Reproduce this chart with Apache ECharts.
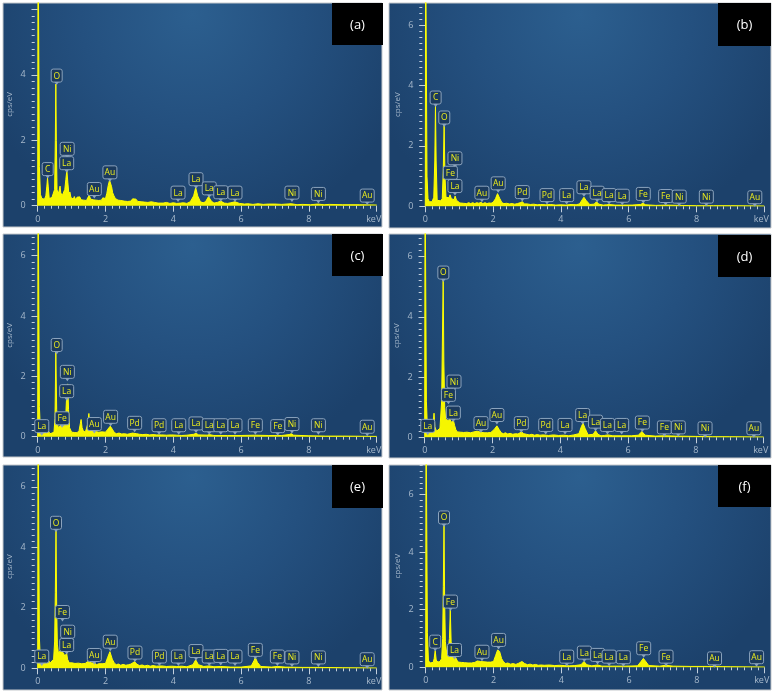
<!DOCTYPE html>
<html>
<head>
<meta charset="utf-8">
<script src="https://cdn.jsdelivr.net/npm/echarts@6.0.0/dist/echarts.min.js"></script>
<style>
html, body { margin: 0; padding: 0; background: #fff; }
#main { width: 774px; height: 694px; }
</style>
</head>
<body>
<div id="main"></div>
<script>
// EDS spectra, [keV, cps/eV]
var specA = [[0,0],[0.01,9],[0.03,9],[0.05,1.2],[0.08,0.35],[0.12,0.22],[0.16,0.28],[0.2,0.2],[0.24,0.3],[0.27,0.6],[0.29,0.85],[0.31,0.6],[0.34,0.22],[0.38,0.18],[0.42,0.25],[0.46,0.2],[0.5,0.5],[0.52,2.0],[0.535,3.72],[0.55,2.0],[0.57,0.5],[0.6,0.35],[0.63,0.45],[0.66,0.6],[0.68,0.4],[0.72,0.3],[0.76,0.35],[0.8,0.5],[0.83,0.8],[0.86,1.08],[0.89,0.7],[0.92,0.35],[0.95,0.42],[0.98,0.25],[1.01,0.3],[1.05,0.2],[1.08,0.28],[1.12,0.18],[1.16,0.26],[1.2,0.2],[1.24,0.27],[1.28,0.18],[1.32,0.24],[1.36,0.17],[1.4,0.22],[1.44,0.16],[1.48,0.25],[1.52,0.32],[1.56,0.2],[1.6,0.26],[1.64,0.18],[1.68,0.24],[1.72,0.17],[1.76,0.23],[1.8,0.16],[1.84,0.22],[1.88,0.17],[1.92,0.24],[1.96,0.18],[2.0,0.22],[2.04,0.38],[2.08,0.62],[2.12,0.78],[2.15,0.72],[2.18,0.58],[2.21,0.4],[2.25,0.3],[2.29,0.22],[2.33,0.25],[2.37,0.17],[2.41,0.22],[2.45,0.16],[2.5,0.2],[2.55,0.14],[2.6,0.18],[2.65,0.13],[2.7,0.17],[2.75,0.14],[2.8,0.21],[2.85,0.26],[2.9,0.2],[2.95,0.13],[3.0,0.16],[3.05,0.12],[3.1,0.15],[3.15,0.11],[3.2,0.14],[3.25,0.1],[3.3,0.15],[3.35,0.12],[3.4,0.16],[3.45,0.1],[3.5,0.12],[3.55,0.08],[3.6,0.1],[3.7,0.08],[3.8,0.1],[3.9,0.07],[4.0,0.09],[4.1,0.07],[4.15,0.12],[4.22,0.08],[4.3,0.09],[4.4,0.07],[4.5,0.12],[4.6,0.3],[4.66,0.55],[4.72,0.3],[4.8,0.12],[4.88,0.09],[4.95,0.12],[5.04,0.28],[5.12,0.14],[5.2,0.08],[5.3,0.1],[5.4,0.14],[5.5,0.08],[5.6,0.07],[5.7,0.09],[5.82,0.12],[5.95,0.07],[6.1,0.05],[6.2,0.06],[6.35,0.04],[6.5,0.06],[6.65,0.04],[6.8,0.05],[7.0,0.05],[7.2,0.04],[7.48,0.06],[7.65,0.03],[7.8,0.04],[8.05,0.03],[8.26,0.05],[8.45,0.03],[8.6,0.04],[9.0,0.03],[9.5,0.03],[10,0.02]];
var specB = [[0,0],[0.01,9],[0.03,9],[0.05,1.0],[0.08,0.25],[0.12,0.15],[0.16,0.18],[0.2,0.15],[0.25,0.3],[0.28,1.5],[0.3,3.35],[0.32,1.5],[0.35,0.2],[0.4,0.15],[0.45,0.18],[0.5,0.25],[0.53,1.2],[0.555,2.7],[0.58,1.0],[0.61,0.3],[0.65,0.32],[0.7,0.28],[0.73,0.38],[0.77,0.25],[0.81,0.3],[0.85,0.22],[0.88,0.34],[0.92,0.2],[0.97,0.15],[1.02,0.11],[1.07,0.14],[1.12,0.1],[1.17,0.13],[1.22,0.09],[1.28,0.12],[1.34,0.09],[1.4,0.12],[1.46,0.09],[1.52,0.12],[1.58,0.1],[1.64,0.13],[1.7,0.09],[1.76,0.12],[1.82,0.09],[1.88,0.11],[1.94,0.1],[2.0,0.13],[2.07,0.25],[2.13,0.42],[2.2,0.25],[2.26,0.12],[2.32,0.09],[2.4,0.1],[2.48,0.08],[2.56,0.09],[2.64,0.07],[2.72,0.09],[2.8,0.12],[2.86,0.15],[2.93,0.08],[3.0,0.08],[3.1,0.06],[3.2,0.07],[3.3,0.05],[3.4,0.06],[3.55,0.05],[3.7,0.06],[3.85,0.04],[4.0,0.05],[4.15,0.04],[4.3,0.06],[4.45,0.05],[4.55,0.08],[4.63,0.22],[4.68,0.3],[4.74,0.2],[4.85,0.06],[4.98,0.07],[5.05,0.15],[5.12,0.07],[5.25,0.04],[5.35,0.05],[5.42,0.06],[5.6,0.04],[5.85,0.04],[6.1,0.04],[6.35,0.06],[6.42,0.1],[6.5,0.05],[6.8,0.03],[7.1,0.04],[7.5,0.03],[8.0,0.02],[8.5,0.02],[9,0.02],[10,0.01]];
var specC = [[0,0],[0.01,9],[0.03,9],[0.05,1.0],[0.08,0.2],[0.12,0.12],[0.18,0.15],[0.24,0.14],[0.27,0.25],[0.29,0.35],[0.31,0.2],[0.36,0.1],[0.42,0.12],[0.48,0.15],[0.51,0.6],[0.535,2.82],[0.56,0.9],[0.6,0.3],[0.65,0.25],[0.7,0.4],[0.74,0.45],[0.78,0.35],[0.82,0.5],[0.86,1.5],[0.885,1.75],[0.91,0.9],[0.94,0.3],[1.0,0.15],[1.04,0.2],[1.08,0.14],[1.12,0.18],[1.16,0.13],[1.22,0.2],[1.26,0.45],[1.28,0.57],[1.31,0.3],[1.36,0.15],[1.42,0.2],[1.47,0.4],[1.51,0.77],[1.54,0.35],[1.6,0.18],[1.65,0.14],[1.7,0.17],[1.75,0.12],[1.8,0.15],[1.85,0.12],[1.9,0.16],[1.95,0.12],[2.0,0.15],[2.07,0.25],[2.14,0.35],[2.2,0.25],[2.26,0.14],[2.32,0.1],[2.4,0.12],[2.48,0.09],[2.56,0.1],[2.64,0.08],[2.72,0.1],[2.8,0.12],[2.85,0.17],[2.92,0.1],[3.0,0.08],[3.1,0.07],[3.2,0.08],[3.3,0.06],[3.4,0.07],[3.5,0.06],[3.65,0.06],[3.8,0.05],[3.95,0.06],[4.1,0.05],[4.25,0.04],[4.4,0.05],[4.6,0.08],[4.67,0.11],[4.75,0.06],[5.0,0.05],[5.06,0.07],[5.2,0.04],[5.6,0.04],[6.0,0.04],[6.4,0.05],[6.8,0.04],[7.2,0.04],[7.42,0.07],[7.48,0.1],[7.55,0.05],[8.0,0.03],[8.5,0.02],[9,0.02],[10,0.01]];
var specD = [[0,0],[0.01,9],[0.03,9],[0.05,1.2],[0.08,0.3],[0.12,0.2],[0.17,0.22],[0.22,0.2],[0.25,0.45],[0.275,0.8],[0.3,0.35],[0.35,0.2],[0.4,0.22],[0.45,0.3],[0.5,1.2],[0.52,3.0],[0.545,5.23],[0.565,2.5],[0.59,1.0],[0.62,0.6],[0.66,0.65],[0.7,0.55],[0.74,0.62],[0.78,0.5],[0.82,0.45],[0.85,0.55],[0.88,0.4],[0.92,0.25],[0.96,0.18],[1.0,0.23],[1.05,0.17],[1.1,0.22],[1.15,0.16],[1.2,0.21],[1.25,0.17],[1.3,0.2],[1.35,0.15],[1.4,0.2],[1.45,0.18],[1.5,0.24],[1.55,0.2],[1.6,0.23],[1.65,0.17],[1.7,0.2],[1.75,0.15],[1.8,0.19],[1.85,0.15],[1.9,0.19],[1.95,0.16],[2.0,0.2],[2.05,0.26],[2.13,0.38],[2.2,0.25],[2.26,0.15],[2.32,0.12],[2.38,0.15],[2.45,0.11],[2.52,0.13],[2.6,0.1],[2.68,0.12],[2.75,0.11],[2.8,0.15],[2.86,0.18],[2.92,0.12],[3.0,0.1],[3.08,0.08],[3.16,0.1],[3.24,0.07],[3.32,0.09],[3.4,0.07],[3.5,0.08],[3.65,0.06],[3.8,0.08],[3.95,0.06],[4.1,0.07],[4.25,0.05],[4.4,0.08],[4.55,0.12],[4.62,0.35],[4.67,0.47],[4.73,0.3],[4.82,0.08],[4.97,0.1],[5.04,0.22],[5.11,0.1],[5.2,0.05],[5.3,0.06],[5.4,0.08],[5.55,0.05],[5.8,0.05],[6.1,0.05],[6.3,0.07],[6.41,0.19],[6.5,0.07],[6.8,0.04],[7.06,0.05],[7.4,0.04],[8.0,0.03],[8.5,0.02],[9.0,0.02],[10,0.01]];
var specE = [[0,0],[0.01,9],[0.03,9],[0.05,1.0],[0.08,0.25],[0.12,0.18],[0.17,0.2],[0.22,0.17],[0.26,0.3],[0.29,0.58],[0.32,0.25],[0.37,0.18],[0.42,0.2],[0.47,0.3],[0.5,0.9],[0.52,2.5],[0.54,4.57],[0.56,2.0],[0.58,0.8],[0.61,0.5],[0.64,0.55],[0.68,0.6],[0.72,0.58],[0.76,0.5],[0.8,0.4],[0.83,0.45],[0.855,0.5],[0.88,0.3],[0.93,0.18],[0.97,0.14],[1.01,0.18],[1.05,0.12],[1.1,0.16],[1.15,0.12],[1.2,0.17],[1.25,0.11],[1.3,0.15],[1.35,0.12],[1.4,0.16],[1.47,0.22],[1.52,0.28],[1.58,0.18],[1.63,0.13],[1.68,0.17],[1.74,0.12],[1.8,0.15],[1.85,0.11],[1.9,0.15],[1.95,0.12],[2.0,0.16],[2.06,0.35],[2.13,0.55],[2.2,0.3],[2.26,0.17],[2.32,0.12],[2.38,0.14],[2.45,0.1],[2.52,0.13],[2.6,0.1],[2.68,0.12],[2.75,0.14],[2.8,0.17],[2.86,0.22],[2.92,0.14],[3.0,0.09],[3.08,0.11],[3.16,0.08],[3.24,0.1],[3.32,0.07],[3.4,0.09],[3.5,0.07],[3.65,0.08],[3.8,0.06],[3.95,0.07],[4.1,0.06],[4.25,0.07],[4.4,0.05],[4.58,0.12],[4.66,0.28],[4.74,0.12],[4.9,0.06],[5.06,0.08],[5.2,0.05],[5.4,0.06],[5.7,0.04],[6.0,0.04],[6.3,0.08],[6.38,0.25],[6.42,0.36],[6.48,0.2],[6.58,0.06],[6.9,0.04],[7.07,0.06],[7.3,0.04],[7.8,0.03],[8.3,0.03],[9.0,0.02],[10,0.01]];
var specF = [[0,0],[0.01,9],[0.03,9],[0.05,1.2],[0.08,0.25],[0.12,0.15],[0.17,0.18],[0.22,0.17],[0.25,0.3],[0.28,0.58],[0.31,0.25],[0.36,0.18],[0.42,0.2],[0.47,0.3],[0.5,1.0],[0.52,2.8],[0.54,4.94],[0.56,2.2],[0.58,0.9],[0.61,0.55],[0.64,0.6],[0.67,0.65],[0.7,1.0],[0.725,1.99],[0.75,0.9],[0.78,0.55],[0.82,0.5],[0.85,0.45],[0.88,0.35],[0.92,0.25],[0.96,0.18],[1.0,0.23],[1.05,0.17],[1.1,0.21],[1.15,0.16],[1.2,0.2],[1.25,0.15],[1.3,0.19],[1.35,0.15],[1.4,0.2],[1.45,0.17],[1.52,0.22],[1.57,0.16],[1.62,0.2],[1.67,0.15],[1.72,0.19],[1.77,0.14],[1.82,0.18],[1.87,0.15],[1.92,0.18],[1.96,0.16],[2.0,0.2],[2.06,0.4],[2.12,0.6],[2.18,0.55],[2.24,0.3],[2.3,0.18],[2.36,0.13],[2.42,0.15],[2.5,0.11],[2.58,0.13],[2.66,0.1],[2.74,0.14],[2.84,0.2],[2.92,0.13],[3.0,0.09],[3.08,0.11],[3.16,0.08],[3.24,0.1],[3.32,0.07],[3.4,0.08],[3.5,0.07],[3.65,0.08],[3.8,0.06],[3.95,0.07],[4.1,0.06],[4.25,0.05],[4.4,0.06],[4.58,0.09],[4.67,0.2],[4.75,0.09],[4.9,0.05],[5.07,0.08],[5.2,0.04],[5.5,0.04],[5.9,0.04],[6.25,0.05],[6.35,0.2],[6.42,0.31],[6.48,0.22],[6.58,0.06],[6.9,0.04],[7.08,0.07],[7.3,0.04],[7.8,0.03],[8.3,0.03],[9.0,0.02],[10,0.01]];

// peak tags: [element, keV, cps/eV at tag centre]
var tagsA = [['C',0.295,1.12],['O',0.56,3.98],['Ni',0.87,1.74],['La',0.855,1.30],['Au',1.67,0.51],['Au',2.13,1.02],['La',4.14,0.40],['La',4.67,0.81],['La',5.06,0.53],['La',5.40,0.41],['La',5.82,0.40],['Ni',7.50,0.40],['Ni',8.28,0.36],['Au',9.72,0.31]];
var tagsB = [['C',0.305,3.6],['O',0.56,2.94],['Ni',0.875,1.59],['Fe',0.74,1.11],['La',0.875,0.67],['Au',1.67,0.45],['Au',2.15,0.76],['Pd',2.86,0.47],['Pd',3.59,0.37],['La',4.17,0.37],['La',4.68,0.63],['La',5.07,0.45],['La',5.42,0.37],['La',5.81,0.35],['Fe',6.43,0.41],['Fe',7.09,0.34],['Ni',7.49,0.32],['Ni',8.29,0.32],['Au',9.72,0.3]];
var tagsC = [['La',0.12,0.35],['O',0.56,3.04],['Ni',0.875,2.15],['La',0.855,1.51],['Fe',0.72,0.61],['Au',1.67,0.42],['Au',2.15,0.66],['Pd',2.86,0.46],['Pd',3.58,0.38],['La',4.16,0.38],['La',4.67,0.44],['La',5.06,0.38],['La',5.4,0.38],['La',5.82,0.38],['Fe',6.42,0.38],['Fe',7.08,0.35],['Ni',7.5,0.42],['Ni',8.28,0.38],['Au',9.72,0.33]];
var tagsD = [['La',0.09,0.38],['O',0.55,5.47],['Ni',0.865,1.85],['Fe',0.70,1.41],['La',0.845,0.82],['Au',1.66,0.47],['Au',2.13,0.74],['Pd',2.85,0.47],['Pd',3.57,0.41],['La',4.14,0.41],['La',4.66,0.74],['La',5.04,0.52],['La',5.39,0.41],['La',5.81,0.41],['Fe',6.42,0.49],['Fe',7.07,0.33],['Ni',7.48,0.33],['Ni',8.27,0.3],['Au',9.71,0.3]];
var tagsE = [['La',0.12,0.39],['O',0.54,4.81],['Fe',0.73,1.86],['Ni',0.885,1.21],['La',0.855,0.77],['Au',1.67,0.44],['Au',2.14,0.88],['Pd',2.87,0.52],['Pd',3.59,0.39],['La',4.15,0.39],['La',4.67,0.57],['La',5.06,0.39],['La',5.4,0.41],['La',5.82,0.39],['Fe',6.42,0.61],['Fe',7.07,0.39],['Ni',7.5,0.36],['Ni',8.28,0.36],['Au',9.72,0.3]];
var tagsF = [['C',0.28,0.89],['O',0.54,5.2],['Fe',0.73,2.28],['La',0.85,0.6],['Au',1.66,0.54],['Au',2.15,0.95],['La',4.16,0.37],['La',4.68,0.51],['La',5.07,0.43],['La',5.41,0.37],['La',5.83,0.35],['Fe',6.43,0.66],['Fe',7.09,0.37],['Au',8.52,0.31],['Au',9.76,0.35]];

var panelNames = ['(a)', '(b)', '(c)', '(d)', '(e)', '(f)'];
var yMax = [6.2, 6.73, 6.72, 6.75, 6.72, 7.02];
var yMajorTicks = [0, 2, 4, 6];
var yLabelsA = [0, 2, 4];
var yLabels = [0, 2, 4, 6];

var specs = [specA, specB, specC, specD, specE, specF];
var tags = [tagsA, tagsB, tagsC, tagsD, tagsE, tagsF];

// layout in px: panel frame, plot area, caption box
var frames = [[3, 3, 379, 224], [389, 3, 382, 225], [3, 234, 379, 223], [389, 234, 382, 224], [3, 465, 379, 225], [389, 465, 382, 225]];
var plots = [[37.7, 3, 339, 202.7], [425.3, 3, 339, 203.3], [37.7, 234, 339, 202.7], [424.7, 234, 339, 203.3], [37.7, 465, 339, 203.3], [425.7, 465, 339, 202.3]];
var capBoxes = [[332, 3, 51, 42], [718, 3, 53, 43], [332, 234, 51, 42], [718, 235, 53, 42], [332, 465, 51, 43], [718, 465, 53, 42]];

var font = 'Open Sans';
var tickColor = '#c3d0de';
var labelColor = '#a6b8cb';

function tagRender(list) {
    return function (params, api) {
        var name = list[params.dataIndex][0];
        var p = api.coord([api.value(0), api.value(1)]);
        var w = name.length > 1 ? 14 : 11;
        return {
            type: 'group',
            children: [
                {type: 'polygon', shape: {points: [[p[0] - 2.5, p[1] + 6], [p[0] + 2.5, p[1] + 6], [p[0], p[1] + 9.5]]}, style: {fill: '#8ba3bd'}},
                {type: 'rect', shape: {x: p[0] - w / 2, y: p[1] - 6.5, width: w, height: 13, r: 2}, style: {fill: '#1b3a5e', stroke: '#8ba3bd', lineWidth: 1}},
                {type: 'text', style: {text: name, x: p[0], y: p[1] + 0.5, fill: '#ecec1e', fontSize: 8.5, fontFamily: font, align: 'center', verticalAlign: 'middle'}}
            ]
        };
    };
}

var option = {
    animation: false,
    backgroundColor: '#ffffff',
    grid: [],
    xAxis: [],
    yAxis: [],
    series: [],
    graphic: []
};

for (var i = 0; i < 6; i++) {
    var f = frames[i], pl = plots[i], cb = capBoxes[i];
    var minor = [];
    for (var k = 1; k * 0.2 < yMax[i]; k++) {
        minor.push(Math.round(k * 2) / 10);
    }

    option.grid.push({left: pl[0], top: pl[1], width: pl[2], height: pl[3]});

    option.xAxis.push({
        gridIndex: i, type: 'value', min: 0, max: 10, interval: 2, offset: 1,
        axisLine: {show: false},
        axisTick: {show: true, length: 6, lineStyle: {color: tickColor, width: 1}},
        minorTick: {show: true, splitNumber: 10, length: 3, lineStyle: {color: tickColor, width: 1}},
        splitLine: {show: false},
        axisLabel: {
            color: labelColor, fontSize: 9, fontFamily: font, margin: 8,
            formatter: function (v) { return v === 10 ? '{k|keV}' : v; },
            rich: {k: {color: labelColor, fontSize: 9, fontFamily: font, padding: [0, 6, 0, 0]}}
        }
    });

    // major ticks + labels
    option.yAxis.push({
        gridIndex: i, type: 'value', position: 'left', min: 0, max: yMax[i], offset: 3,
        axisLine: {show: false},
        axisTick: {show: true, length: 6, customValues: yMajorTicks, lineStyle: {color: tickColor, width: 1}},
        splitLine: {show: false},
        axisLabel: {customValues: i === 0 ? yLabelsA : yLabels, color: labelColor, fontSize: 9, fontFamily: font, margin: 9},
        name: 'cps/eV', nameLocation: 'middle', nameGap: 21,
        nameTextStyle: {color: labelColor, fontSize: 8, fontFamily: font}
    });
    // minor dashes every 0.2
    option.yAxis.push({
        gridIndex: i, type: 'value', position: 'left', min: 0, max: yMax[i], offset: 3,
        axisLine: {show: false},
        axisTick: {show: true, length: 3, customValues: minor, lineStyle: {color: tickColor, width: 1}},
        splitLine: {show: false},
        axisLabel: {show: false}
    });

    option.series.push({
        type: 'line', xAxisIndex: i, yAxisIndex: 2 * i,
        data: specs[i], showSymbol: false, clip: true, z: 2,
        lineStyle: {color: '#ffff00', width: 1},
        areaStyle: {color: '#f6f600', opacity: 1}
    });
    option.series.push({
        type: 'custom', xAxisIndex: i, yAxisIndex: 2 * i, z: 3,
        data: tags[i].map(function (t) { return [t[1], t[2]]; }),
        renderItem: tagRender(tags[i])
    });

    option.graphic.push({
        type: 'rect', z: -10,
        shape: {x: f[0], y: f[1], width: f[2], height: f[3]},
        style: {
            fill: new echarts.graphic.RadialGradient(0.5, 0.05, 1, [
                {offset: 0, color: '#2c5f8f'},
                {offset: 0.5, color: '#24507f'},
                {offset: 1, color: '#1c416b'}
            ]),
            stroke: '#c4c8cc', lineWidth: 1
        }
    });
    option.graphic.push({
        type: 'rect', z: 100,
        shape: {x: cb[0], y: cb[1], width: cb[2], height: cb[3]},
        style: {fill: '#000000'}
    });
    option.graphic.push({
        type: 'text', z: 101,
        x: cb[0] + cb[2] / 2, y: cb[1] + cb[3] / 2 + 1,
        style: {text: panelNames[i], fill: '#ffffff', fontSize: 13, fontFamily: font, align: 'center', verticalAlign: 'middle'}
    });
}

var myChart = echarts.init(document.getElementById('main'));
myChart.setOption(option);
</script>
</body>
</html>
